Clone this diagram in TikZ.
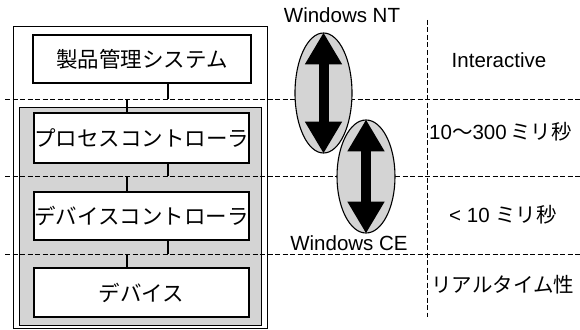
\documentclass[tikz,border=0pt]{standalone}
\usepackage{fontspec}
\setmainfont{Liberation Sans}
\newfontfamily\cjk{Noto Sans CJK JP}
\usetikzlibrary{shapes.geometric,arrows.meta}
\begin{document}
\begin{tikzpicture}[x=1pt,y=-1pt,
 box/.style={draw,line width=1.4pt,fill=white,minimum width=215pt,minimum height=49pt,inner sep=0pt,font=\cjk\fontsize{21.5}{21.5}\selectfont},
 dashline/.style={dash pattern=on 5pt off 2.5pt,line width=0.8pt},
 oval/.style={ellipse,draw,line width=1.1pt,fill=black!17,inner sep=0pt},
 bigarrow/.style={line width=10pt,{Triangle[length=32pt,width=35pt]}-{Triangle[length=32pt,width=35pt]}},
 conn/.style={line width=1.2pt},
 lbl/.style={inner sep=0pt,font=\fontsize{20.5}{20.5}\selectfont}]
\useasboundingbox (0,0) rectangle (580,329);
% frames
\draw[line width=1pt] (13,27) rectangle (267,328);
\draw[line width=1pt,fill=black!17] (19,107) rectangle (261,325);
% dashed separators
\draw[dashline] (5,99) -- (580,99);
\draw[dashline] (5,176) -- (580,176);
\draw[dashline] (5,254) -- (580,254);
\draw[dashline] (427,20) -- (427,317);
% boxes
\node[box,minimum width=218pt,minimum height=48pt] (sys) at (142,59) {製品管理システム};
\node[box,minimum height=50pt] (pc) at (141.5,138) {プロセスコントローラ};
\node[box,minimum height=48pt] (dc) at (141.5,216) {デバイスコントローラ};
\node[box] (dev) at (141.5,292.5) {デバイス};
% connector joints
\coordinate (j1) at (168,99);  \coordinate (k1) at (127,99);
\coordinate (j2) at (168,176); \coordinate (k2) at (127,176);
\coordinate (j3) at (168,254); \coordinate (k3) at (127,254);
\draw[conn] (sys.south -| j1) -- (j1);
\draw[conn] (k1) -- (pc.north -| k1);
\draw[conn] (pc.south -| j2) -- (j2);
\draw[conn] (k2) -- (dc.north -| k2);
\draw[conn] (dc.south -| j3) -- (j3);
\draw[conn] (k3) -- (dev.north -| k3);
% ellipses with arrows
\node[oval,minimum width=57pt,minimum height=120pt] (nt) at (323.5,93) {};
\draw[bigarrow] (nt.north) -- (nt.south);
\node[oval,minimum width=58pt,minimum height=113pt] (ce) at (366,176.5) {};
\draw[bigarrow] (ce.north) -- (ce.south);
% labels
\node[lbl] (ntl) at (342,15) {Windows NT};
\node[lbl] (cel) at (349,243) {Windows CE};
\node[lbl] (l1) at (499,60) {Interactive};
\node[lbl,anchor=west] (l2) at (429,132) {10{\cjk ～}300\,{\cjk ミリ秒}};
\node[lbl,anchor=west] (l3) at (449,215) {< 10 {\cjk ミリ秒}};
\node[lbl,anchor=west,font=\cjk\fontsize{20.5}{20.5}\selectfont] (l4) at (431,285) {リアルタイム性};
\end{tikzpicture}
\end{document}
